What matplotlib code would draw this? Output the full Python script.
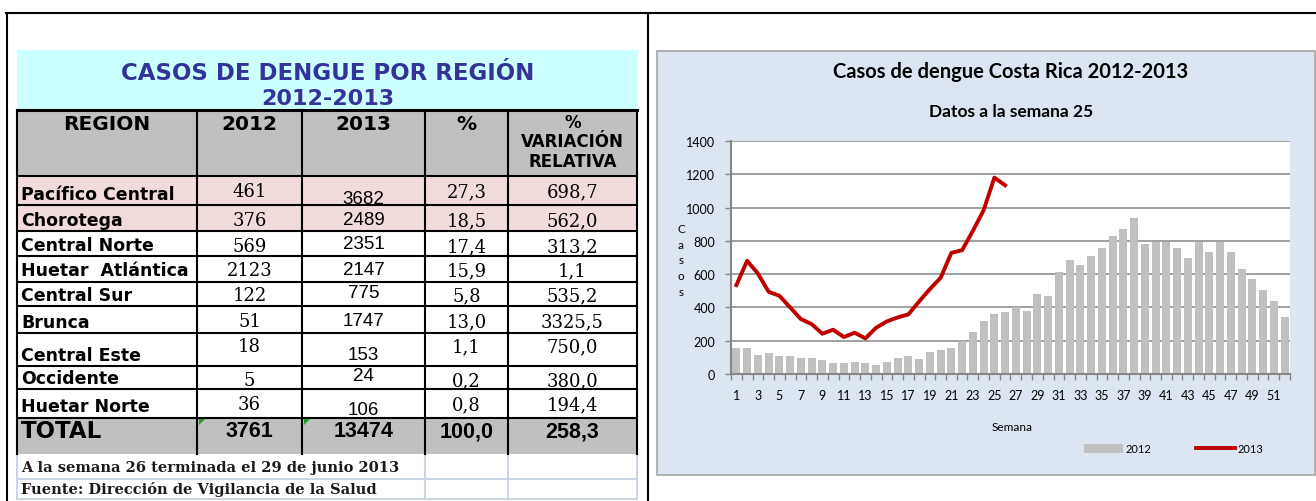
import numpy as np
import matplotlib.pyplot as plt
from matplotlib.patches import Rectangle, Polygon
from matplotlib.lines import Line2D

# ---- table data ----
regions = ["Pacífico Central", "Chorotega", "Central Norte", "Huetar  Atlántica",
           "Central Sur", "Brunca", "Central Este", "Occidente", "Huetar Norte"]
cases_2012 = [461, 376, 569, 2123, 122, 51, 18, 5, 36]
cases_2013 = [3682, 2489, 2351, 2147, 775, 1747, 153, 24, 106]
share_2013 = [27.3, 18.5, 17.4, 15.9, 5.8, 13.0, 1.1, 0.2, 0.8]
variation = [698.7, 562.0, 313.2, 1.1, 535.2, 3325.5, 750.0, 380.0, 194.4]
totals = [3761, 13474, 100.0, 258.3]
headers = ["REGION", "2012", "2013", "%"]
var_header = ["%", "VARIACIÓN", "RELATIVA"]
table_title = ["CASOS DE DENGUE POR REGIÓN", "2012-2013"]
notes = ["A la semana 26 terminada el 29 de junio 2013",
         "Fuente: Dirección de Vigilancia de la Salud"]

# ---- chart data (cases per epidemiological week) ----
weeks = np.arange(1, 53)
weekly_2012 = [156, 156, 114, 124, 106, 106, 98, 98, 82, 64, 64, 72, 64, 56, 70, 98,
               106, 90, 132, 142, 156, 198, 252, 316, 360, 370, 400, 378, 480, 468,
               614, 682, 656, 708, 758, 828, 870, 936, 784, 794, 794, 758, 700, 794,
               732, 794, 732, 630, 570, 504, 436, 342]
weekly_2013 = [534, 680, 604, 494, 470, 400, 330, 300, 242, 266, 222, 248, 214, 278,
               316, 340, 358, 436, 510, 578, 728, 744, 860, 984, 1180, 1134]


def dec(v):
    return f"{v:.1f}".replace(".", ",")


W, H = 1316, 502
fig = plt.figure(figsize=(W / 100, H / 100), dpi=100)
base = fig.add_axes([0, 0, 1, 1])
base.set_xlim(0, W)
base.set_ylim(H, 0)
base.axis("off")

BLACK_LW = 1.5
sans = "Liberation Sans"
wide = "DejaVu Sans"
serif = "DejaVu Serif"
chart_font = "Lato"

# outer frame
base.plot([6, W], [14, 14], color="black", lw=BLACK_LW)
base.plot([6.5, 6.5], [14, H], color="black", lw=BLACK_LW)
base.plot([648, 648], [14, H], color="black", lw=BLACK_LW)

# ---- table layout ----
col_edges = [17, 197, 302, 425, 508, 637]
row_edges = [111, 177, 206, 232, 257, 283, 307, 334, 367, 390, 419, 455]
col_mid = [(a + b) / 2 for a, b in zip(col_edges[:-1], col_edges[1:])]
y_name = [195, 221, 246, 271, 296, 323, 356, 379, 407]
y_num = [192, 221, 247, 271, 296, 322, 347, 381, 405]
y_2013 = [200, 221, 245, 271, 294, 322, 356, 377, 411]

base.add_patch(Rectangle((17, 51), 621, 60, fc="#CCFFFF", ec="none"))
base.add_patch(Rectangle((17, 111), 620, 66, fc="#C0C0C0", ec="none"))
base.add_patch(Rectangle((17, 177), 620, 55, fc="#F2DCDB", ec="none"))
base.add_patch(Rectangle((17, 419), 620, 36, fc="#C0C0C0", ec="none"))

base.text(328, 73, table_title[0], ha="center", va="center", fontsize=16.5,
          fontweight="bold", color="#333399", family=wide)
base.text(328, 99, table_title[1], ha="center", va="center", fontsize=16,
          fontweight="bold", color="#333399", family=wide)

# footnote cells
light = "#C5D2E4"
for y in [479.5, 500]:
    base.plot([17, 637], [y, y], color=light, lw=1.3)
for x in [17, 425, 508, 637]:
    base.plot([x, x], [455, 500], color=light, lw=1.3)
for y, note in zip([468, 490], notes):
    base.text(21, y, note, ha="left", va="center", fontsize=10.5, fontweight="bold",
              family="DejaVu Serif", color="#1a1a1a")

# grid lines
base.plot([17, 637], [111, 111], color="black", lw=2.2)
for y in row_edges[1:-1]:
    base.plot([17, 637], [y, y], color="black", lw=BLACK_LW)
for x in col_edges:
    base.plot([x, x], [111, 455], color="black", lw=BLACK_LW)

# header
for x, h in zip(col_mid, headers):
    base.text(x, 125, h, ha="center", va="center", fontsize=14.5, fontweight="bold",
              family=wide)
for y, h in zip([123, 142, 162], var_header):
    base.text(col_mid[4], y, h, ha="center", va="center", fontsize=12,
              fontweight="bold", family=wide)

# body
for i, name in enumerate(regions):
    base.text(21, y_name[i], name, ha="left", va="center", fontsize=12.5,
              fontweight="bold", family=wide)
    base.text(col_mid[1], y_num[i], str(cases_2012[i]), ha="center", va="center",
              fontsize=13, family=serif)
    base.text(col_mid[2], y_2013[i], str(cases_2013[i]), ha="center", va="center",
              fontsize=13.5, family=sans)
    base.text(col_mid[3], y_num[i], dec(share_2013[i]), ha="center", va="center",
              fontsize=13, family=serif)
    base.text(col_mid[4], y_num[i], dec(variation[i]), ha="center", va="center",
              fontsize=13, family=serif)

base.text(21, 432, "TOTAL", ha="left", va="center", fontsize=16.5, fontweight="bold",
          family=wide)
total_txt = [str(totals[0]), str(totals[1]), dec(totals[2]), dec(totals[3])]
for x, t in zip(col_mid[1:], total_txt):
    base.text(x, 432, t, ha="center", va="center", fontsize=15.5, fontweight="bold",
              family=sans)
for x in [199, 304]:
    base.add_patch(Polygon([(x, 420), (x + 6, 420), (x, 426)], fc="#1E9E1E", ec="none"))

# ---- chart ----
base.add_patch(Rectangle((657, 52), 658, 424, fc="#DCE6F2", ec="#A6A6A6", lw=1.2))
base.text(1011, 72, "Casos de dengue Costa Rica 2012-2013", ha="center", va="center",
          fontsize=14.5, fontweight="bold", family=chart_font)
base.text(1011, 112, "Datos a la semana 25", ha="center", va="center",
          fontsize=12.5, fontweight="bold", family=chart_font)
base.text(681, 261, "C\na\ns\no\ns", ha="center", va="center", fontsize=8.5,
          linespacing=1.55, family=chart_font)
base.text(1012, 428, "Semana", ha="center", va="center", fontsize=8.5, family=chart_font)

ax = fig.add_axes([731 / W, 1 - 375 / H, 559 / W, 233 / H])
ax.set_facecolor("white")
ax.bar(weeks, weekly_2012, width=0.76, color="#C0C0C0", zorder=2)
ax.plot(weeks[:len(weekly_2013)], weekly_2013, color="#C00000", lw=2.8, zorder=3)
ax.set_xlim(0.5, 52.5)
ax.set_ylim(0, 1400)
ax.set_yticks(range(0, 1401, 200))
ax.grid(axis="y", color="#868686", lw=1.1)
ax.set_axisbelow(True)
ax.set_xticks(weeks[::2])
ax.set_xticks(np.arange(0.5, 53, 1), minor=True)
ax.tick_params(axis="x", which="major", length=0, pad=11, labelsize=9)
ax.tick_params(axis="x", which="minor", length=4.5, width=1, color="#868686")
ax.tick_params(axis="y", length=4.3, width=1, color="#868686", pad=7, labelsize=9)
for lab in ax.get_xticklabels() + ax.get_yticklabels():
    lab.set_family(chart_font)
for s in ["top", "right"]:
    ax.spines[s].set_visible(False)
for s in ["left", "bottom"]:
    ax.spines[s].set_color("#868686")
    ax.spines[s].set_linewidth(1.5)

handles = [Rectangle((0, 0), 1, 1, fc="#C0C0C0", ec="none"),
           Line2D([], [], color="#C00000", lw=2.8)]
ax.legend(handles, ["2012", "2013"], loc="center left", bbox_to_anchor=(1084, 450),
          bbox_transform=base.transData, ncol=2, frameon=False,
          prop={"family": chart_font, "size": 8}, handlelength=3.5, handleheight=0.9,
          handletextpad=0.25, columnspacing=4.0, borderpad=0, borderaxespad=0)

fig.savefig("out.png", dpi=100)
